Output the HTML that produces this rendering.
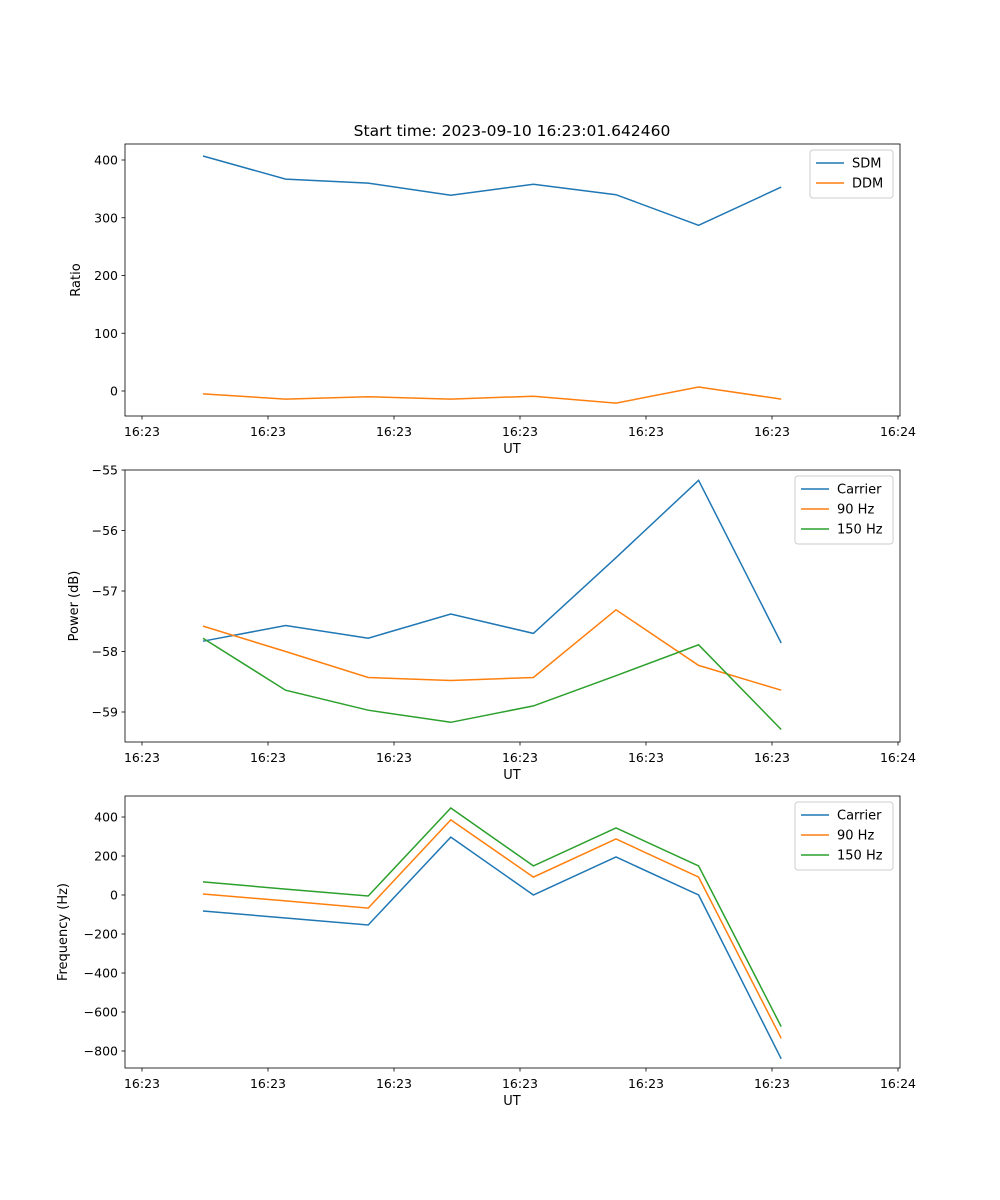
<!DOCTYPE html>
<html><head><meta charset="utf-8">
<style>
body{margin:0;background:#fff}
svg{display:block;font-family:"DejaVu Sans","Liberation Sans",sans-serif}
</style></head>
<body>
<svg id="fig" width="1000" height="1200" xmlns="http://www.w3.org/2000/svg">
<text x="512" y="136" font-size="15.5" text-anchor="middle">Start time: 2023-09-10 16:23:01.642460</text>
</svg>
<script>
const xTickLabels=["16:23","16:23","16:23","16:23","16:23","16:23","16:24"];
const sdm=[407,367,360,339,358,340,287,353];
const ddm=[-5,-14,-10,-14,-9,-21,7,-14];
const pCarrier=[-57.83,-57.57,-57.78,-57.38,-57.70,-56.45,-55.17,-57.86];
const p90=[-57.58,-58.0,-58.43,-58.48,-58.43,-57.31,-58.23,-58.64];
const p150=[-57.78,-58.64,-58.97,-59.17,-58.90,-58.40,-57.89,-59.29];
const fCarrier=[-82,-118,-154,297,0,195,0,-840];
const f90=[5,-30,-67,385,92,287,92,-735];
const f150=[67,30,-5,446,149,344,149,-675];
const ticks1=[400,300,200,100,0];
const ticks2=[-55,-56,-57,-58,-59];
const ticks3=[400,200,0,-200,-400,-600,-800];

const NS="http://www.w3.org/2000/svg";
const svg=document.getElementById('fig');
function el(t,a,p){const e=document.createElementNS(NS,t);for(const k in a)e.setAttribute(k,a[k]);(p||svg).appendChild(e);return e;}
const X0=125,X1=900;
function xPos(i){return 203+i*82.6;}
const xTickPx=[142,268,394,520,646,772,898];
const colors=["#1f77b4","#ff7f0e","#2ca02c"];

function panel(name,top,v0,y0,v1,y1,ticks,ylabel,lx,series,labels,legendW){
  const bottom=top+272;
  const yS=v=>y0+(v-v0)*(y1-y0)/(v1-v0);
  const g=el('g',{});
  
  
  series.forEach((s,k)=>{
    const pts=s.map((v,i)=>xPos(i).toFixed(1)+','+yS(v).toFixed(1)).join(' ');
    const l=el('polyline',{points:pts,fill:'none',stroke:colors[k],'stroke-width':1.5},g);
    
    
  });
  const fr=el('rect',{x:X0,y:top,width:X1-X0,height:272,fill:'none',stroke:'#000','stroke-width':0.8},g);
  
  
  ticks.forEach(t=>{
    const y=yS(t);
    el('line',{x1:X0-3.5,x2:X0,y1:y,y2:y,stroke:'#000','stroke-width':0.8},g);
    const tx=el('text',{x:X0-7,y:y+4.5,'font-size':12.5,'text-anchor':'end'},g);
    tx.textContent=String(t).replace('-','\u2212');
    
    
  });
  xTickPx.forEach((x,i)=>{
    el('line',{x1:x,x2:x,y1:bottom,y2:bottom+3.5,stroke:'#000','stroke-width':0.8},g);
    const tx=el('text',{x:x,y:bottom+20,'font-size':12.5,'text-anchor':'middle'},g);
    tx.textContent=xTickLabels[i];
    
    
  });
  const xl=el('text',{x:512,y:bottom+37,'font-size':13,'text-anchor':'middle'},g);
  xl.textContent='UT';
  
  
  const cy=(top+bottom)/2;
  const yl=el('text',{x:lx,y:cy,'font-size':13,'text-anchor':'middle',transform:`rotate(-90 ${lx} ${cy})`},g);
  yl.textContent=ylabel;
  
  
  const lxl=893-legendW, ly=top+6, lh=labels.length*20+8;
  const lg=el('g',{},g);
  
  
  el('rect',{x:lxl,y:ly,width:legendW,height:lh,rx:3,fill:'#fff','fill-opacity':0.8,stroke:'#ccc'},lg);
  labels.forEach((lab,k)=>{
    const yy=ly+13+k*20;
    el('line',{x1:lxl+6,x2:lxl+34,y1:yy,y2:yy,stroke:colors[k],'stroke-width':1.5},lg);
    const t=el('text',{x:lxl+42,y:yy+4.5,'font-size':13},lg);
    t.textContent=lab;
    
    
  });
}
panel('ratio-panel',144,400,160,0,391,ticks1,'Ratio',80,[sdm,ddm],['SDM','DDM'],83);
panel('power-panel',470,-55,470,-59,712,ticks2,'Power (dB)',78,[pCarrier,p90,p150],['Carrier','90 Hz','150 Hz'],98);
panel('frequency-panel',796,400,817,-800,1051,ticks3,'Frequency (Hz)',67,[fCarrier,f90,f150],['Carrier','90 Hz','150 Hz'],98);
</script>
</body></html>
